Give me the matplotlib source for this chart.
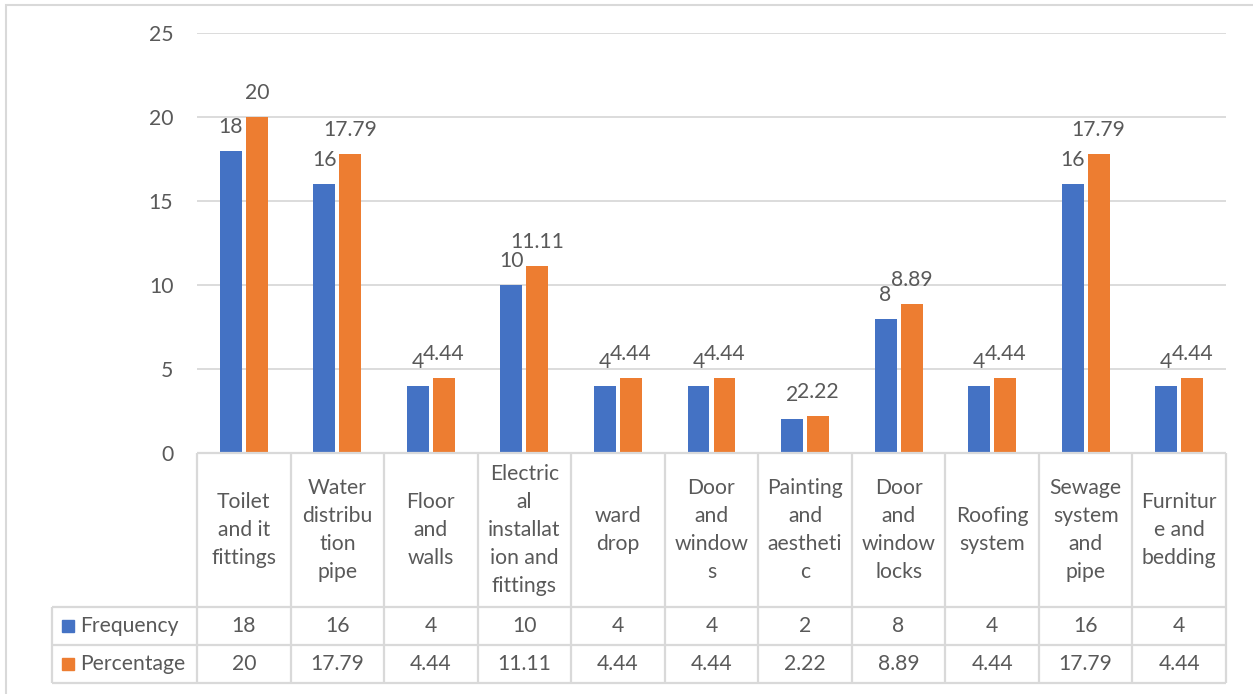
import matplotlib.pyplot as plt
import numpy as np
from matplotlib.patches import Rectangle

categories = ['Toilet\nand it\nfittings', 'Water\ndistribu\ntion\npipe', 'Floor\nand\nwalls',
              'Electric\nal\ninstallat\nion and\nfittings', 'ward\ndrop', 'Door\nand\nwindow\ns',
              'Painting\nand\naestheti\nc', 'Door\nand\nwindow\nlocks', 'Roofing\nsystem',
              'Sewage\nsystem\nand\npipe', 'Furnitur\ne and\nbedding']
frequency = [18, 16, 4, 10, 4, 4, 2, 8, 4, 16, 4]
percentage = [20, 17.79, 4.44, 11.11, 4.44, 4.44, 2.22, 8.89, 4.44, 17.79, 4.44]
series_names = ['Frequency', 'Percentage']
colors = ['#4472C4', '#ED7D31']
yticks = [0, 5, 10, 15, 20, 25]

plt.rcParams['font.family'] = ['Lato', 'DejaVu Sans']
text_color = '#595959'
line_color = '#d9d9d9'
fs = 15.2

W, H = 1253, 694
fig = plt.figure(figsize=(W / 100, H / 100), dpi=100)


def px_box(x0, y0, x1, y1):
    return [x0 / W, 1 - y1 / H, (x1 - x0) / W, (y1 - y0) / H]


# outer chart frame (runs off the right and bottom edge)
fig.add_artist(Rectangle((6 / W, -0.1), 2, 1 - 5 / H + 0.1, transform=fig.transFigure,
                         fill=False, ec=line_color, lw=1.5))

n = len(categories)
x = np.arange(n)
bw = 0.235
off = 0.139

ax = fig.add_axes(px_box(197, 33, 1226, 453))
for k, (vals, c) in enumerate(zip([frequency, percentage], colors)):
    sign = -1 if k == 0 else 1
    ax.bar(x + sign * off, vals, bw, color=c, zorder=3)
    for xi, v in zip(x, vals):
        ax.annotate(f'{v:g}', (xi + sign * off, v), xytext=(0, 24), textcoords='offset pixels',
                    ha='center', va='center', fontsize=fs, color=text_color)

ax.set_xlim(-0.5, n - 0.5)
ax.set_ylim(0, 25)
ax.set_yticks(yticks)
ax.set_xticks([])
ax.grid(axis='y', color=line_color, lw=1.3, zorder=0)
for s in ax.spines.values():
    s.set_visible(False)
ax.tick_params(axis='y', length=0, pad=17, labelsize=fs, labelcolor=text_color)

# data table below the plot
ppc = (1226 - 197) / n
lead = (197 - 52) / ppc
tab = fig.add_axes(px_box(52, 453, 1226, 683))
tab.set_xlim(-0.5 - lead, n - 0.5)
tab.set_ylim(230, 0)
tab.axis('off')
rows = [0, 154, 192, 230]
kw = dict(color=line_color, lw=1.6, clip_on=False)
tab.hlines(rows[0], -0.5, n - 0.5, **kw)
tab.hlines(rows[1:], -0.5 - lead, n - 0.5, **kw)
tab.vlines(np.arange(n + 1) - 0.5, 0, 230, **kw)
tab.vlines(-0.5 - lead, rows[1], rows[3], **kw)

for xi, lab in zip(x, categories):
    tab.text(xi, 77, lab, ha='center', va='center', fontsize=fs, color=text_color,
             linespacing=1.5)
for r, vals in enumerate([frequency, percentage]):
    yc = (rows[r + 1] + rows[r + 2]) / 2
    for xi, v in zip(x, vals):
        tab.text(xi, yc, f'{v:g}', ha='center', va='center', fontsize=fs, color=text_color)
    x0 = -0.5 - lead + 10 / ppc
    tab.add_patch(Rectangle((x0, yc - 6), 12 / ppc, 12, color=colors[r], clip_on=False))
    tab.text(x0 + 18 / ppc, yc, series_names[r], ha='left', va='center', fontsize=fs,
             color=text_color)

fig.savefig('out.png', dpi=100)
